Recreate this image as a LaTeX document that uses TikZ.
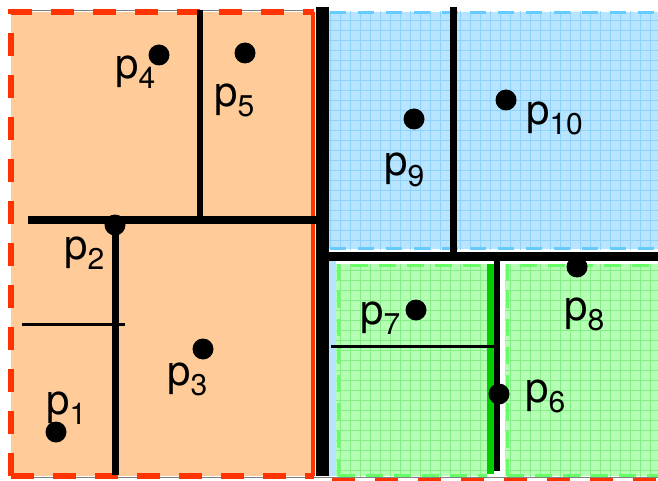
\documentclass[tikz,border=0pt]{standalone}
\usepackage{fontspec}
\setmainfont{TeX Gyre Heros}
\newcommand\plab[1]{p\raisebox{-10pt}{\fontsize{30}{30}\selectfont #1}}
\definecolor{orfill}{HTML}{FFCC99}
\definecolor{redc}{HTML}{FF3300}
\definecolor{bluefill}{HTML}{B8E4FF}
\definecolor{bluegrid}{HTML}{8ED2FA}
\definecolor{blueedge}{HTML}{66CCFF}
\definecolor{greenfill}{HTML}{B5FFB5}
\definecolor{greengrid}{HTML}{86EE86}
\definecolor{greenedge}{HTML}{66FF66}
\definecolor{darkgreen}{HTML}{00CC00}
\begin{document}
\begin{tikzpicture}[x=1pt,y=-1pt,
  lbl/.style={anchor=base west,inner sep=0pt,font=\fontsize{42}{42}\selectfont},
  dot/.style={circle,fill=black,inner sep=0pt,minimum size=21pt},
  thickl/.style={line width=#1, black},
  reddash/.style={redc,line width=5.5,dash pattern=on 23 off 19},
  bluedash/.style={blueedge,line width=3,dash pattern=on 16 off 12},
  greendash/.style={greenedge,line width=3,dash pattern=on 17 off 11}]
\useasboundingbox (0,0) rectangle (658,481);

% ---- orange region
\fill[orfill] (11,12) rectangle (314,476);
\draw[gray,line width=0.8] (11,10) -- (314,10);
\draw[gray,line width=0.8] (11,477.5) -- (658,477.5);
\draw[reddash] (11,476) -- (11,12) -- (314,12);
\draw[reddash] (11,476) -- (314,476);
\draw[redc,line width=4] (313,12) -- (313,476);

% ---- blue region
\begin{scope}
  \clip (328,12) rectangle (658,249);
  \fill[bluefill] (328,12) rectangle (658,249);
  \draw[bluegrid,line width=0.9,step=10pt] (320,0) grid (660,260);
\end{scope}
\fill[bluefill] (328,261) rectangle (336,476);
\draw[bluedash] (330,13) -- (658,13);
\draw[bluedash] (330,248) -- (658,248);

% ---- green regions
\begin{scope}
  \clip (336,264) rectangle (487,476);
  \fill[greenfill] (336,264) rectangle (487,476);
  \draw[greengrid,line width=0.9,step=10pt] (330,260) grid (490,480);
\end{scope}
\begin{scope}
  \clip (505,264) rectangle (658,476);
  \fill[greenfill] (505,264) rectangle (658,476);
  \draw[greengrid,line width=0.9,step=10pt] (500,260) grid (660,480);
\end{scope}
\draw[greendash] (338,476) -- (338,265) -- (487,265);
\draw[greendash] (338,475) -- (487,475);
\draw[greendash] (507,476) -- (507,265) -- (658,265);
\draw[greendash] (507,475) -- (658,475);
\draw[redc,line width=3,dash pattern=on 23 off 20] (332,479.5) -- (658,479.5);

% ---- split lines (named end points)
\coordinate (a1) at (322.5,7);   \coordinate (a2) at (322.5,476);
\coordinate (b1) at (28,220);    \coordinate (b2) at (316,220);
\coordinate (c1) at (200,10);    \coordinate (c2) at (200,220);
\coordinate (e1) at (115.5,220); \coordinate (e2) at (115.5,475);
\coordinate (f1) at (22,324.5);  \coordinate (f2) at (125,324.5);
\coordinate (g1) at (453.5,7);   \coordinate (g2) at (453.5,252);
\coordinate (h1) at (329,256.5); \coordinate (h2) at (658,256.5);
\coordinate (k1) at (490.5,264); \coordinate (k2) at (490.5,474);
\coordinate (m1) at (497,261);   \coordinate (m2) at (497,471);
\coordinate (n1) at (331,346);   \coordinate (n2) at (494,346);

\draw[darkgreen,line width=7] (k1) -- (k2);
\draw[thickl=13] (a1) -- (a2);
\draw[thickl=8] (b1) -- (b2);
\draw[thickl=6] (c1) -- (c2);
\draw[thickl=7] (e1) -- (e2);
\draw[thickl=3] (f1) -- (f2);
\draw[thickl=7] (g1) -- (g2);
\draw[thickl=9] (h1) -- (h2);
\draw[thickl=6] (m1) -- (m2);
\draw[thickl=3] (n1) -- (n2);

% ---- points
\node[dot] (d1) at (56,432) {};
\node[dot] (d2) at (115,225) {};
\node[dot] (d3) at (203,349) {};
\node[dot] (d4) at (159,55) {};
\node[dot] (d5) at (245,53) {};
\node[dot] (d6) at (499,394) {};
\node[dot] (d7) at (416,310) {};
\node[dot] (d8) at (577,267) {};
\node[dot] (d9) at (414,119) {};
\node[dot] (d10) at (506,100) {};

% ---- labels
\node[lbl] (l1) at (46,414) {\plab{1}};
\node[lbl] (l2) at (64,259) {\plab{2}};
\node[lbl] (l3) at (167,385) {\plab{3}};
\node[lbl] (l4) at (115,79) {\plab{4}};
\node[lbl] (l5) at (214,107) {\plab{5}};
\node[lbl] (l6) at (525,402) {\plab{6}};
\node[lbl] (l7) at (360,324) {\plab{7}};
\node[lbl] (l8) at (564,320) {\plab{8}};
\node[lbl] (l9) at (384,176) {\plab{9}};
\node[lbl] (l10) at (526,125) {\plab{10}};
\end{tikzpicture}
\end{document}
